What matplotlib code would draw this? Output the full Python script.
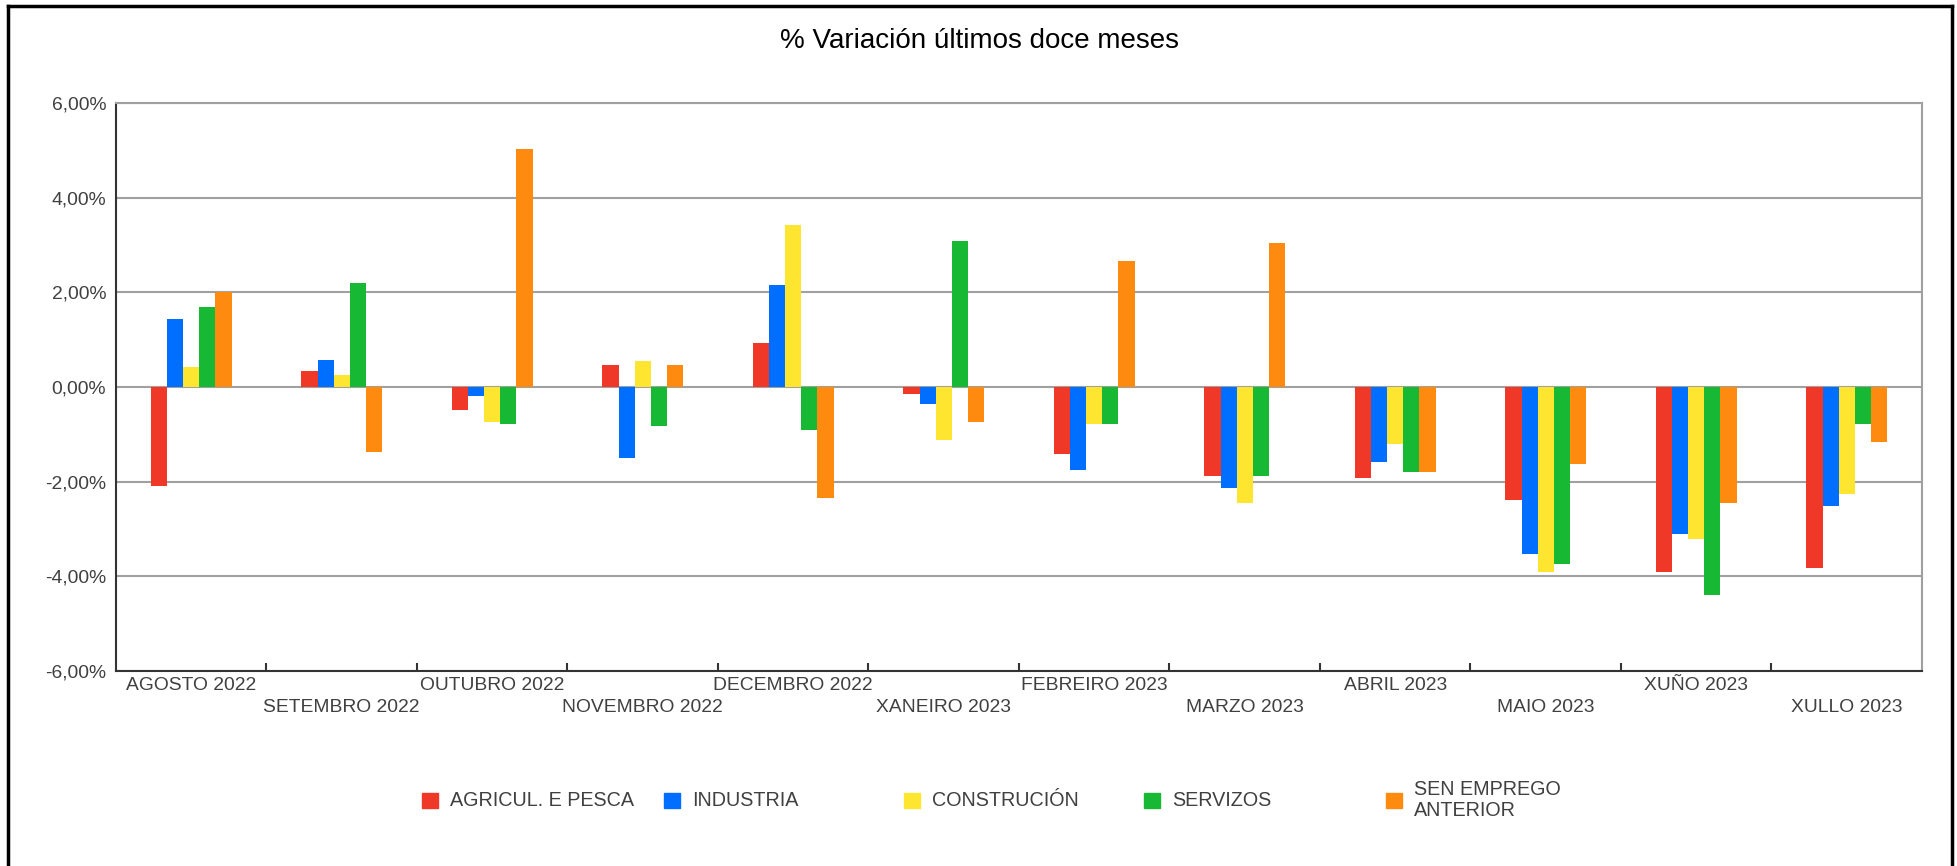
import numpy as np
import matplotlib.pyplot as plt
from matplotlib.patches import Rectangle
from matplotlib.lines import Line2D
from matplotlib.ticker import FuncFormatter

plt.rcParams['font.family'] = ['Liberation Sans', 'DejaVu Sans']

# meses
meses = ["AGOSTO 2022", "SETEMBRO 2022", "OUTUBRO 2022", "NOVEMBRO 2022",
         "DECEMBRO 2022", "XANEIRO 2023", "FEBREIRO 2023", "MARZO 2023",
         "ABRIL 2023", "MAIO 2023", "XUÑO 2023", "XULLO 2023"]

# % variación últimos doce meses por sector
agricultura = [-2.10, 0.33, -0.48, 0.46, 0.93, -0.14, -1.41, -1.87, -1.93, -2.39, -3.90, -3.82]
industria = [1.44, 0.58, -0.18, -1.50, 2.16, -0.35, -1.75, -2.13, -1.59, -3.53, -3.10, -2.51]
construcion = [0.42, 0.25, -0.74, 0.54, 3.42, -1.12, -0.79, -2.46, -1.20, -3.90, -3.22, -2.26]
servizos = [1.69, 2.20, -0.79, -0.83, -0.91, 3.08, -0.79, -1.87, -1.80, -3.73, -4.39, -0.78]
sen_emprego = [2.01, -1.38, 5.02, 0.46, -2.34, -0.74, 2.66, 3.04, -1.80, -1.62, -2.46, -1.16]

series = [agricultura, industria, construcion, servizos, sen_emprego]
nomes = ["AGRICUL. E PESCA", "INDUSTRIA", "CONSTRUCIÓN", "SERVIZOS", "SEN EMPREGO\nANTERIOR"]
cores = ["#F03829", "#006EFF", "#FDE530", "#17B934", "#FF8A10"]

W, H = 1958, 866
fig = plt.figure(figsize=(W / 100, H / 100), dpi=100)
ax = fig.add_axes([116 / W, 1 - 671 / H, (1922 - 116) / W, (671 - 103) / H])

x = np.arange(len(meses))
ancho = 0.107
for i, (vals, cor) in enumerate(zip(series, cores)):
    ax.bar(x + (i - 2) * ancho, vals, ancho, color=cor, zorder=3, linewidth=0)

ax.set_xlim(-0.5, len(meses) - 0.5)
ax.set_ylim(-6, 6)
ax.set_yticks(np.arange(-6, 7, 2))
ax.yaxis.set_major_formatter(FuncFormatter(lambda v, p: f"{v:.2f}%".replace(".", ",")))
ax.grid(axis='y', color='#A0A0A0', linewidth=1.5, zorder=0)
ax.tick_params(axis='y', length=0, pad=7, labelsize=13.9, labelcolor='#404040')

# marcas nos bordes das categorías, etiquetas no centro en dúas filas
ax.set_xticks(np.arange(0.5, len(meses) - 0.5, 1))
ax.tick_params(axis='x', which='major', direction='in', length=6, width=1.5,
               color='#333333', labelbottom=False)
ax.set_xticks(x, minor=True)
etiquetas = [m if i % 2 == 0 else "\n" + m for i, m in enumerate(meses)]
ax.set_xticklabels(etiquetas, minor=True, linespacing=1.45)
ax.tick_params(axis='x', which='minor', length=0, pad=4, labelsize=13.9, labelcolor='#404040')

for lado in ['top', 'right']:
    ax.spines[lado].set_color('#A0A0A0')
    ax.spines[lado].set_linewidth(1.5)
for lado in ['left', 'bottom']:
    ax.spines[lado].set_color('#333333')
    ax.spines[lado].set_linewidth(1.5)

fig.text(0.5005, 1 - 41 / H, "% Variación últimos doce meses", ha='center', va='center',
         fontsize=20, color='black')

# lenda
xs_cadro = [422, 664, 904, 1144, 1386]
yl = 1 - 800 / H
for xc, nome, cor in zip(xs_cadro, nomes, cores):
    fig.patches.append(Rectangle((xc / W, yl - 7.5 / H), 16 / W, 15 / H,
                                 transform=fig.transFigure, color=cor, figure=fig))
    fig.text((xc + 28) / W, yl, nome, ha='left', va='center', fontsize=14.2,
             color='#404040', linespacing=1.15)

# marco
fig.add_artist(Line2D([8 / W, 8 / W], [0, 1 - 6 / H], color='black', linewidth=2.5))
fig.add_artist(Line2D([8 / W, 1952 / W], [1 - 6 / H, 1 - 6 / H], color='black', linewidth=2.5))
fig.add_artist(Line2D([1952 / W, 1952 / W], [0, 1 - 6 / H], color='black', linewidth=2.5))

fig.savefig("out.png", dpi=100)
